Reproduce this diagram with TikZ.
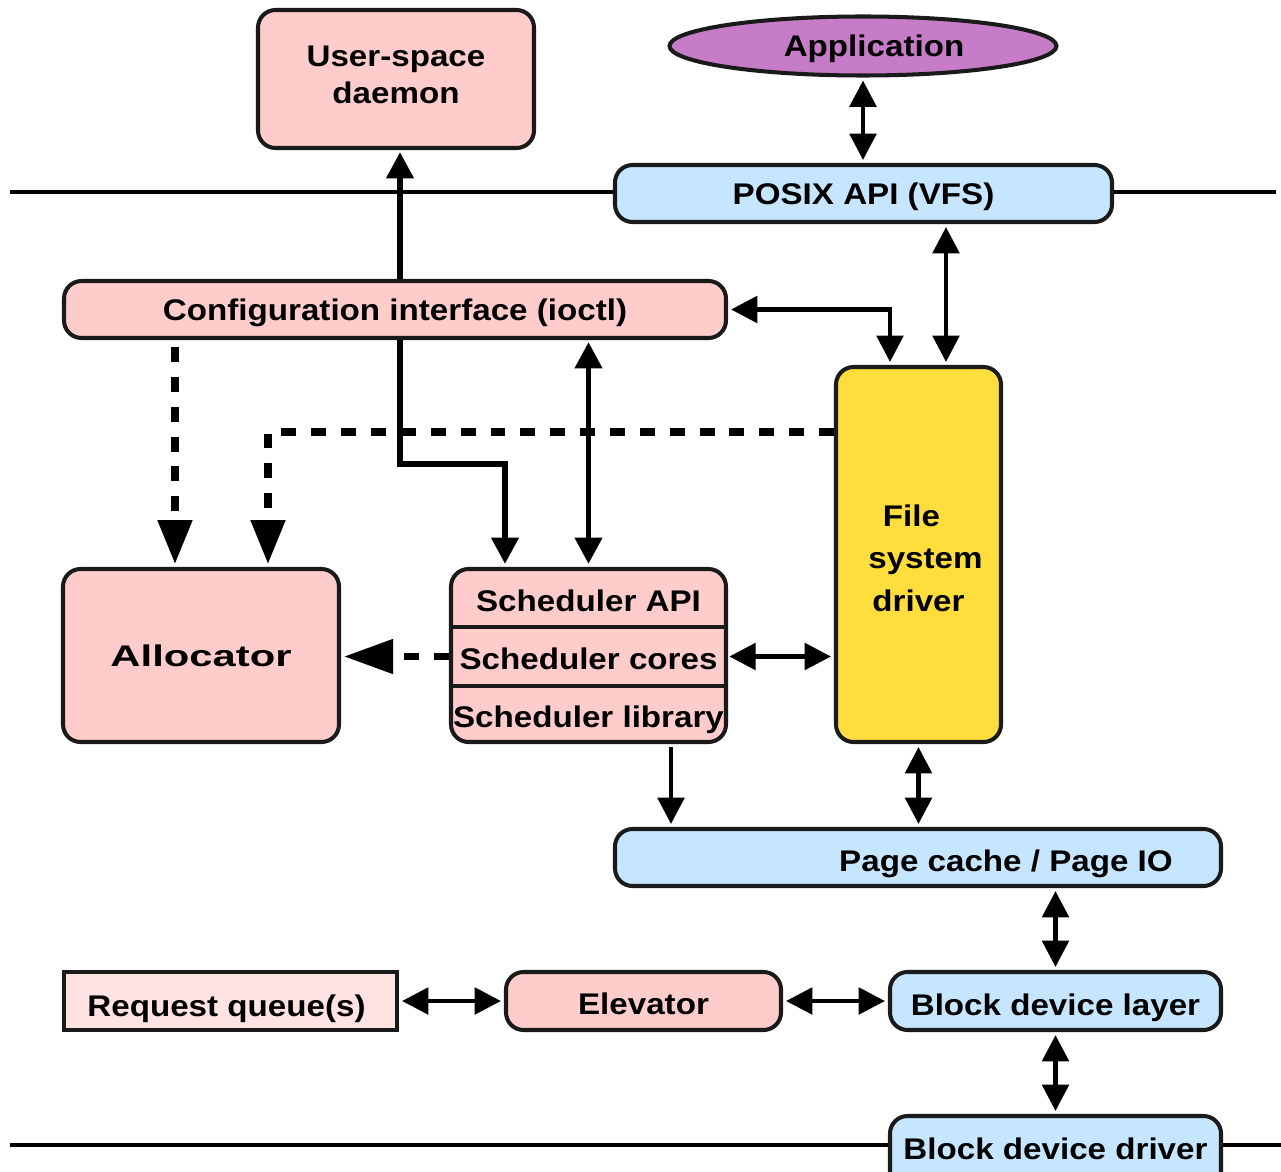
\documentclass[tikz,border=0pt]{standalone}
\usepackage{fontspec}
\setmainfont{Liberation Sans}[FakeStretch=1.11]
\usetikzlibrary{arrows.meta,shapes.geometric,calc}

\definecolor{boxpink}{RGB}{255,204,204}
\definecolor{queuepink}{RGB}{255,226,226}
\definecolor{layerblue}{RGB}{198,230,255}
\definecolor{fsyellow}{RGB}{255,221,60}
\definecolor{appviolet}{RGB}{198,124,198}
\definecolor{edgegray}{RGB}{26,26,26}

% lift a box without changing the size that TikZ centres on
\newcommand\liftby[2]{\raisebox{#1}[\height][\depth]{#2}}

\pgfdeclarelayer{behind}
\pgfsetlayers{behind,main}

\tikzset{
  tipS/.tip={Triangle[length=15pt,width=15pt]},
  tipL/.tip={Triangle[length=25pt,width=19pt]},
  tipXL/.tip={Triangle[length=28pt,width=19pt]},
  lbl/.style={font=\fontsize{17}{21}\selectfont\bfseries},
  capline/.style={text height=12.2pt, text depth=0pt},
  sz/.style 2 args={minimum width=#1*0.02cm, minimum height=#2*0.02cm},
  blk/.style={lbl, draw=edgegray, line width=2.3pt, rounded corners=10pt,
              inner sep=0pt, align=center},
  pinkbox/.style={blk, fill=boxpink},
  bluebox/.style={blk, fill=layerblue},
  part/.style={lbl, inner sep=0pt, minimum width=275*0.02cm},
  link/.style={line width=2.6pt, draw=black, shorten <=0.06cm, shorten >=0.06cm},
  dbl/.style={link, arrows={tipS-tipS}},
  one/.style={link, arrows={-tipS}},
  heavy/.style={line width=3.4pt, draw=black, arrows={tipS-tipS},
                shorten <=0.04cm, shorten >=0.06cm},
  dashlink/.style={line width=4pt, draw=black, dash pattern=on 8.5pt off 8.5pt,
                   shorten >=0.06cm},
  rule/.style={line width=2.4pt, draw=black},
}

\begin{document}
\begin{tikzpicture}[x=0.02cm,y=-0.02cm]
\useasboundingbox (0,0) rectangle (1281,1172);
\clip (0,0) rectangle (1281,1172);

% user space
\node[pinkbox, sz={276}{138}] (daemon) at (396,79)
      {\liftby{0.6pt}{\begin{tabular}{@{}c@{}}User-space\\daemon\end{tabular}}};
\node[ellipse, lbl, capline, draw=edgegray, line width=2.3pt, fill=appviolet,
      inner sep=0pt, sz={387}{59}] (app) at (863,46) {\hspace*{0.44cm}Application};

% kernel boundary and VFS
\node[bluebox, sz={497}{57}, text height=13pt, text depth=0pt] (posix) at (863.5,193.5) {POSIX API (VFS)};
\coordinate (ruleL) at (10,192);
\coordinate (ruleR) at (1276,192);
\draw[rule] (ruleL) -- (ruleL -| posix.west);
\draw[rule] (ruleR -| posix.east) -- (ruleR);

% kernel modules
\node[pinkbox, capline, sz={662}{57}] (config) at (395,309.5) {Configuration interface (ioctl)};
\node[blk, fill=fsyellow, sz={165}{375}, font=\fontsize{17}{24}\selectfont\bfseries]
      (fsd) at (918.5,554.5)
      {\liftby{-3.4pt}{\begin{tabular}{@{}c@{}}File\hspace*{0.28cm}\\\hspace*{0.28cm}system\\driver\end{tabular}}};
\node[pinkbox, capline, sz={276}{173}] (alloc) at (201,655.5)
      {\scalebox{1.26}[1]{Allocator}};

% scheduler stack
\node[pinkbox, sz={275}{173}] (sched) at (588.5,655.5) {};
\node[part, minimum height=58*0.02cm, text height=15.6pt, text depth=0pt] (sapi) at (588.5,598) {Scheduler API};
\node[part, minimum height=59*0.02cm, text height=15pt, text depth=0pt] (score) at (588.5,656.5) {Scheduler cores};
\node[part, minimum height=56*0.02cm, text height=15.6pt, text depth=0pt] (slib) at (588.5,714) {Scheduler library};
\draw[line width=2.3pt, draw=edgegray] (sapi.south west) -- (sapi.south east);
\draw[line width=2.3pt, draw=edgegray] (score.south west) -- (score.south east);

% block layer
\node[bluebox, sz={606}{57}, text height=16.2pt, text depth=0pt] (page) at (918,857.5) {\hspace*{3.52cm}Page cache / Page IO};
\node[blk, rounded corners=0pt, fill=queuepink, sz={333}{58}, text height=17.8pt, text depth=0pt]
      (reqq) at (230.5,1001) {Request queue(s)\hspace*{0.16cm}};
\node[pinkbox, sz={275}{58}, text height=15.6pt, text depth=0pt] (elev) at (643.5,1001) {Elevator};
\node[bluebox, sz={331}{58}, text height=16.7pt, text depth=0pt] (bdl) at (1055.5,1001) {Block device layer};
\node[bluebox, sz={331}{74}, text height=12.2pt, text depth=4.5pt] (bdd) at (1055.5,1153) {Block device driver};
\coordinate (floorL) at (10,1145);
\coordinate (floorR) at (1281,1145);
\draw[rule] (floorL) -- (floorL -| bdd.west);
\draw[rule] (floorR -| bdd.east) -- (floorR);

% guide points for the routed connectors
\coordinate (vfsx) at (946,0);
\coordinate (cfgx) at (890,0);
\coordinate (bendA) at (400,464);
\coordinate (bendB) at (505,464);
\coordinate (cdashx) at (175,0);
\coordinate (fbend) at (268,432);
\coordinate (libx) at (671,0);

% daemon link runs underneath the configuration interface
\begin{pgfonlayer}{behind}
\draw[heavy] (daemon.south -| bendA) -- (bendA) -- (bendB) -- (sched.north -| bendB);
\end{pgfonlayer}

% solid connectors
\draw[dbl] (app.south) -- (posix.north -| app.south);
\draw[dbl] (posix.south -| vfsx) -- (fsd.north -| vfsx);
\draw[dbl] (config.east) -- (config.east -| cfgx) -- (fsd.north -| cfgx);
\draw[heavy] (config.south -| sched.north) -- (sched.north);
\draw[dbl] (score.east) -- (score.east -| fsd.west);
\draw[one] (sched.south -| libx) -- (page.north -| libx);
\draw[dbl] (fsd.south) -- (page.north -| fsd.south);
\draw[dbl] (page.south -| bdl.north) -- (bdl.north);
\draw[dbl] (reqq.east) -- (elev.west);
\draw[dbl] (elev.east) -- (bdl.west);
\draw[dbl] (bdl.south) -- (bdd.north);

% dashed connectors into the allocator
\draw[dashlink, arrows={-tipL}, shorten <=0.14cm] (config.south -| cdashx) -- (alloc.north -| cdashx);
\draw[dashlink, arrows={-tipL}] (fsd.west |- fbend) -- (fbend) -- (alloc.north -| fbend);
\draw[dashlink, arrows={-tipXL}] (score.west -| sched.west) -- (alloc.east |- score.west);
\end{tikzpicture}
\end{document}
